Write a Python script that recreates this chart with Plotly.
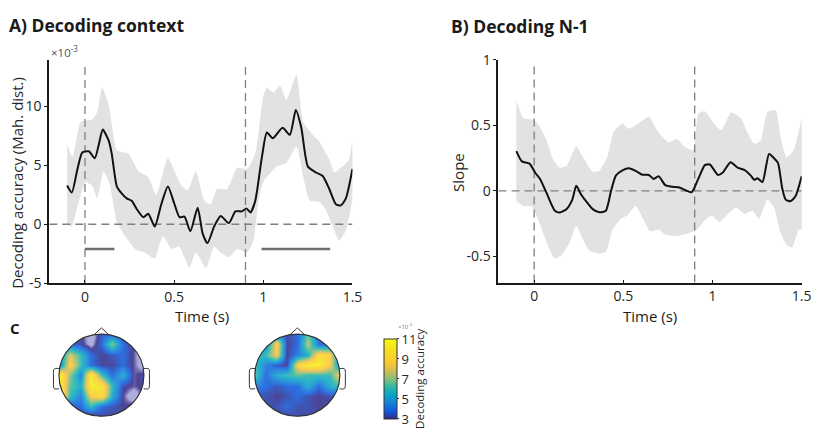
import numpy as np
import plotly.graph_objects as go

W, H = 827, 431

# ---------------- Panel A: decoding context ----------------
a_t = [-0.1, -0.074, -0.042, -0.015, 0.022, 0.055, 0.078, 0.1, 0.133, 0.15, 0.179, 0.207, 0.234,
       0.262, 0.29, 0.327, 0.355, 0.391, 0.428, 0.465, 0.502, 0.53, 0.558, 0.591, 0.632, 0.66,
       0.687, 0.724, 0.761, 0.807, 0.844, 0.88, 0.905, 0.928, 0.955, 0.992, 1.02, 1.053, 1.108,
       1.149, 1.182, 1.213, 1.25, 1.296, 1.333, 1.37, 1.407, 1.435, 1.463, 1.5]
a_mean = [3.3, 2.7, 4.7, 6.1, 6.2, 5.6, 6.8, 8.05, 7.1, 6.0, 3.2, 2.6, 2.2, 2.0, 1.3, 0.6, 0.9,
          -0.2, 1.7, 3.2, 1.7, 0.6, 0.65, -0.6, 1.4, -0.8, -1.6, -0.2, 0.7, 0.1, 1.1, 1.1, 1.35,
          1.0, 2.0, 5.7, 7.8, 7.3, 8.2, 7.6, 9.7, 8.2, 4.9, 4.4, 4.1, 3.0, 1.7, 1.6, 2.2, 4.7]
a_up_t = [-0.1, -0.07, -0.024, 0.04, 0.068, 0.096, 0.133, 0.179, 0.244, 0.3, 0.355, 0.4, 0.465,
          0.54, 0.576, 0.622, 0.669, 0.705, 0.742, 0.798, 0.853, 0.909, 0.955, 1.0, 1.02, 1.057,
          1.093, 1.13, 1.186, 1.223, 1.278, 1.315, 1.37, 1.398, 1.444, 1.48, 1.5]
a_up = [6.8, 5.7, 8.7, 8.9, 9.5, 11.6, 10.2, 6.3, 6.0, 4.5, 4.0, 2.5, 5.6, 3.3, 2.9, 4.5, 2.0,
        1.7, 3.0, 3.0, 4.8, 4.7, 6.0, 10.9, 11.6, 11.2, 11.8, 10.6, 12.7, 8.7, 7.6, 7.0, 5.5,
        4.4, 4.9, 5.5, 7.1]
a_lo_t = [-0.1, -0.075, -0.033, 0.004, 0.04, 0.068, 0.105, 0.14, 0.179, 0.225, 0.28, 0.335,
          0.39, 0.437, 0.484, 0.53, 0.585, 0.622, 0.678, 0.725, 0.76, 0.807, 0.853, 0.909,
          0.946, 0.973, 1.0, 1.075, 1.13, 1.186, 1.223, 1.26, 1.315, 1.352, 1.389, 1.425,
          1.463, 1.5]
a_lo = [0.05, -0.2, 2.0, 3.6, 3.3, 2.2, 4.5, 3.3, 0.2, -1.0, -2.1, -2.4, -2.9, -1.0, -2.1,
        -1.9, -3.7, -2.4, -3.7, -1.9, -2.4, -2.8, -2.1, -2.4, -1.3, 2.0, 3.6, 4.9, 5.2, 6.6,
        4.1, 2.0, 1.9, 1.2, -0.2, -1.4, -0.5, 2.2]
a_sig_start = [0.0, 0.99]
a_sig_end = [0.165, 1.375]
a_sig_level = -2.1

# ---------------- Panel B: decoding N-1 ----------------
b_t = [-0.1, -0.069, -0.026, 0.005, 0.033, 0.07, 0.116, 0.144, 0.181, 0.214, 0.236, 0.264,
       0.291, 0.328, 0.365, 0.402, 0.43, 0.458, 0.495, 0.532, 0.569, 0.606, 0.643, 0.67, 0.698,
       0.735, 0.772, 0.809, 0.846, 0.883, 0.92, 0.957, 0.985, 1.031, 1.058, 1.101, 1.141, 1.178,
       1.215, 1.234, 1.252, 1.28, 1.317, 1.345, 1.367, 1.391, 1.41, 1.437, 1.465, 1.5]
b_mean = [0.304, 0.226, 0.209, 0.141, 0.092, -0.017, -0.151, -0.165, -0.139, -0.066, 0.039,
          -0.029, -0.078, -0.139, -0.163, -0.151, -0.005, 0.117, 0.158, 0.173, 0.153, 0.124,
          0.122, 0.092, 0.112, 0.044, 0.032, 0.029, 0.007, -0.01, 0.092, 0.197, 0.202, 0.122,
          0.141, 0.219, 0.178, 0.161, 0.117, 0.085, 0.097, 0.068, 0.282, 0.25, 0.214, 0.019,
          -0.066, -0.078, -0.041, 0.112]
b_up_t = [-0.1, -0.06, -0.004, 0.024, 0.07, 0.107, 0.144, 0.181, 0.236, 0.282, 0.328, 0.365,
          0.411, 0.448, 0.495, 0.532, 0.587, 0.643, 0.698, 0.754, 0.8, 0.846, 0.892, 0.92,
          0.957, 1.012, 1.05, 1.104, 1.16, 1.197, 1.234, 1.27, 1.308, 1.354, 1.382, 1.415,
          1.456, 1.5]
b_up = [0.693, 0.555, 0.543, 0.506, 0.384, 0.238, 0.178, 0.19, 0.34, 0.238, 0.148, 0.153,
        0.263, 0.457, 0.513, 0.474, 0.518, 0.567, 0.445, 0.372, 0.397, 0.336, 0.311, 0.591,
        0.608, 0.506, 0.462, 0.599, 0.555, 0.445, 0.36, 0.384, 0.603, 0.616, 0.409, 0.258,
        0.311, 0.543]
b_lo_t = [-0.1, -0.06, -0.013, 0.024, 0.07, 0.116, 0.153, 0.199, 0.236, 0.273, 0.31, 0.365,
          0.402, 0.439, 0.485, 0.522, 0.569, 0.606, 0.652, 0.698, 0.735, 0.791, 0.837, 0.892,
          0.92, 0.957, 0.994, 1.04, 1.086, 1.132, 1.178, 1.224, 1.261, 1.308, 1.345, 1.382,
          1.419, 1.447, 1.484, 1.5]
b_lo = [-0.078, -0.114, -0.119, -0.224, -0.394, -0.516, -0.491, -0.394, -0.265, -0.37, -0.455,
        -0.479, -0.467, -0.297, -0.212, -0.187, -0.114, -0.2, -0.309, -0.297, -0.333, -0.345,
        -0.333, -0.309, -0.285, -0.224, -0.187, -0.236, -0.175, -0.127, -0.175, -0.151, -0.212,
        -0.066, -0.127, -0.321, -0.418, -0.431, -0.297, -0.292]

# ---------------- shared ----------------
events = [0.0, 0.9]
x_range = [-0.2, 1.5]
x_ticks = [0, 0.5, 1, 1.5]
x_ticktext = ["0", "0.5", "1", "1.5"]
a_range = [-5, 14]
a_yticks = [-5, 0, 5, 10]
a_yticktext = ["-5", "0", "5", "10"]
b_range = [-0.7, 1.0]
b_yticks = [-0.5, 0, 0.5, 1]
b_yticktext = ["-0.5", "0", "0.5", "1"]

# ---------------- Panel C: topographies (x10^-3), rows top -> bottom ----------------
topo_pos = [-1.0, -0.75, -0.5, -0.25, 0.0, 0.25, 0.5, 0.75, 1.0]
topo1 = [
    [3.2, 3.2, 3.2, 2.0, 3.6, 3.6, 3.2, 3.2, 3.2],
    [3.2, 3.8, 3.2, 2.4, 3.8, 7.0, 3.8, 3.0, 2.0],
    [3.8, 8.0, 6.0, 3.8, 3.0, 3.4, 3.8, 2.9, 2.0],
    [3.8, 9.0, 6.0, 3.8, 3.1, 3.1, 3.8, 2.9, 2.2],
    [11.0, 7.0, 4.3, 10.5, 6.0, 3.8, 5.5, 2.9, 3.2],
    [11.0, 6.5, 5.5, 10.5, 10.0, 6.0, 3.2, 2.9, 3.2],
    [11.0, 6.0, 4.3, 8.5, 9.5, 5.5, 3.0, 2.0, 3.2],
    [3.8, 3.4, 3.8, 6.0, 3.8, 3.4, 3.0, 3.2, 3.2],
    [3.2, 3.2, 3.2, 2.4, 3.2, 3.2, 3.2, 3.2, 3.2],
]
topo2 = [
    [3.8, 3.8, 4.3, 3.2, 3.8, 6.5, 3.8, 3.8, 3.8],
    [3.8, 4.3, 9.0, 3.0, 3.8, 7.5, 3.8, 3.8, 3.8],
    [5.5, 6.0, 8.5, 3.0, 4.3, 5.5, 9.5, 9.0, 3.8],
    [6.0, 4.3, 3.4, 3.0, 9.0, 10.5, 10.5, 8.5, 4.3],
    [6.5, 3.8, 5.5, 6.0, 6.5, 6.0, 6.0, 6.0, 8.5],
    [4.3, 3.8, 3.4, 3.8, 3.8, 5.5, 3.8, 5.5, 6.0],
    [3.3, 3.3, 3.0, 3.3, 3.8, 3.3, 3.0, 3.2, 3.8],
    [3.3, 3.3, 3.3, 3.8, 3.3, 3.3, 3.0, 3.2, 3.3],
    [3.2, 3.2, 3.2, 3.2, 3.2, 3.2, 3.2, 3.2, 3.2],
]
cbar_ticks = [3, 5, 7, 9, 11]
cbar_min, cbar_max = 3, 11

# ---------------- styling helpers ----------------
FONT = "Open Sans, Noto Sans, DejaVu Sans, sans-serif"
TXT = "#262626"
AX = "#1a1a1a"
BAND = "#e2e2e2"
DASH = "#7f7f7f"


def fx(px):
    return px / W


def fy(py):
    return 1 - py / H


parula = [
    [0.0, "#352a87"], [0.1, "#0f5cdd"], [0.2, "#1481d6"], [0.3, "#06a4ca"],
    [0.4, "#2eb7a4"], [0.5, "#87bf77"], [0.6, "#d1bb59"], [0.7, "#fec832"],
    [0.85, "#f5dc22"], [1.0, "#f9fb0e"],
]
lav_low = 2.0
span = cbar_max - lav_low
ext_scale = [[0.0, "#a3a1d8"], [0.6 / span, "#a3a1d8"]]
for p, c in parula:
    ext_scale.append([(cbar_min - lav_low + p * (cbar_max - cbar_min)) / span, c])

fig = go.Figure()


def add_panel(xa, ya, t, mean, up_t, up, lo_t, lo, yr):
    fig.add_trace(go.Scatter(
        x=list(up_t) + list(lo_t)[::-1], y=list(up) + list(lo)[::-1],
        fill="toself", fillcolor=BAND, mode="lines",
        line=dict(width=0, shape="spline", smoothing=0.5),
        xaxis=xa, yaxis=ya, hoverinfo="skip"))
    fig.add_trace(go.Scatter(
        x=x_range, y=[0, 0], mode="lines",
        line=dict(color=DASH, width=1.3, dash="8px,5px"),
        xaxis=xa, yaxis=ya, hoverinfo="skip"))
    for e in events:
        fig.add_trace(go.Scatter(
            x=[e, e], y=yr, mode="lines",
            line=dict(color=DASH, width=1.3, dash="8px,5px"),
            xaxis=xa, yaxis=ya, hoverinfo="skip"))
    fig.add_trace(go.Scatter(
        x=t, y=mean, mode="lines",
        line=dict(color="#111111", width=2, shape="spline", smoothing=0.6),
        xaxis=xa, yaxis=ya))


add_panel("x", "y", a_t, a_mean, a_up_t, a_up, a_lo_t, a_lo, [a_range[0], 13.6])
for s, e in zip(a_sig_start, a_sig_end):
    fig.add_trace(go.Scatter(x=[s, e], y=[a_sig_level, a_sig_level], mode="lines",
                             line=dict(color="#6e6e6e", width=2.5), xaxis="x", yaxis="y"))
add_panel("x2", "y2", b_t, b_mean, b_up_t, b_up, b_lo_t, b_lo, [b_range[0], 0.97])

# topographies
for z, xa, ya in [(topo1, "x3", "y3"), (topo2, "x4", "y4")]:
    fig.add_trace(go.Heatmap(
        x=topo_pos, y=topo_pos, z=z[::-1], zmin=lav_low, zmax=cbar_max,
        colorscale=ext_scale, zsmooth="best", showscale=False, opacity=0.88,
        xaxis=xa, yaxis=ya, hoverinfo="skip"))

# colorbar holder
fig.add_trace(go.Scatter(
    x=[0], y=[0], mode="markers", xaxis="x3", yaxis="y3",
    marker=dict(size=1, opacity=0, color=[cbar_min], cmin=cbar_min, cmax=cbar_max,
                colorscale=parula, showscale=True,
                colorbar=dict(x=fx(389), xanchor="left", y=fy(386), yanchor="middle",
                              len=80, lenmode="pixels", thickness=13, thicknessmode="pixels",
                              xpad=0, ypad=0, outlinewidth=1, outlinecolor="#333",
                              tickvals=cbar_ticks, ticktext=[str(v) for v in cbar_ticks],
                              ticks="outside", ticklen=2, tickcolor="#333",
                              tickfont=dict(size=13, color=TXT, family=FONT))),
    hoverinfo="skip"))

# head outlines / masks
ang = np.linspace(0, 2 * np.pi, 120)
circ = " ".join(("M" if i == 0 else "L") + f" {np.cos(a)*1.003:.4f},{np.sin(a)*1.003:.4f}"
                for i, a in enumerate(ang))
mask_path = "M -1.4,-1.4 L 1.4,-1.4 L 1.4,1.4 L -1.4,1.4 Z " + circ + " Z"
shapes = []
for xr, yr in [("x3", "y3"), ("x4", "y4")]:
    shapes.append(dict(type="path", path=mask_path, xref=xr, yref=yr, fillcolor="white",
                       fillrule="evenodd", line=dict(width=0), layer="above"))
    shapes.append(dict(type="circle", x0=-1, y0=-1, x1=1, y1=1, xref=xr, yref=yr,
                       line=dict(color="#333", width=1.2), layer="above"))
    shapes.append(dict(type="path", path="M -0.17,0.985 L 0,1.15 L 0.17,0.985",
                       xref=xr, yref=yr, line=dict(color="#333", width=1), layer="above"))
    for s in (-1, 1):
        shapes.append(dict(
            type="path",
            path=(f"M {s*0.995},0.16 C {s*1.14},0.18 {s*1.13},0.14 {s*1.13},0.04 "
                  f"L {s*1.13},-0.22 C {s*1.13},-0.34 {s*1.12},-0.35 {s*0.995},-0.33"),
            xref=xr, yref=yr, line=dict(color="#333", width=1), layer="above"))

tickfont = dict(size=14, color=TXT, family=FONT)
xcommon = dict(range=x_range, tickvals=x_ticks, ticktext=x_ticktext, showline=True,
               linecolor=AX, linewidth=2, ticks="inside", ticklen=3, tickcolor=AX,
               showgrid=False, zeroline=False, tickfont=tickfont, fixedrange=True)
ycommon = dict(showline=True, linecolor=AX, linewidth=2, ticks="outside", ticklen=3,
               tickcolor=AX, showgrid=False, zeroline=False, tickfont=tickfont)
topo_ax = dict(visible=False, showgrid=False, zeroline=False)

r = 43.0
t1c, t2c, tcy = 102.7, 301.0, 382.0
half = 1.3 * r

fig.update_layout(
    width=W, height=H, margin=dict(l=0, r=0, t=0, b=0),
    paper_bgcolor="white", plot_bgcolor="rgba(0,0,0,0)", showlegend=False,
    font=dict(family=FONT, color=TXT),
    xaxis=dict(domain=[fx(49.9), fx(356.8)], anchor="y", **xcommon),
    yaxis=dict(domain=[fy(285.7), fy(51.8)], anchor="x", range=a_range, tickvals=a_yticks,
               ticktext=a_yticktext, **ycommon),
    xaxis2=dict(domain=[fx(504.6), fx(811.5)], anchor="y2", **xcommon),
    yaxis2=dict(domain=[fy(285.2), fy(52.3)], anchor="x2", range=b_range, tickvals=b_yticks,
                ticktext=b_yticktext, **ycommon),
    xaxis3=dict(domain=[fx(t1c - half), fx(t1c + half)], anchor="y3", range=[-1.3, 1.3], **topo_ax),
    yaxis3=dict(domain=[0, fy(tcy - half)], anchor="x3",
                range=[-(H - tcy) / r, 1.3], **topo_ax),
    xaxis4=dict(domain=[fx(t2c - half), fx(t2c + half)], anchor="y4", range=[-1.3, 1.3], **topo_ax),
    yaxis4=dict(domain=[0, fy(tcy - half)], anchor="x4",
                range=[-(H - tcy) / r, 1.3], **topo_ax),
    shapes=shapes,
)

ann = [
    dict(text="<b>A) Decoding context</b>", x=fx(7), y=fy(16), size=17.5, xa="left"),
    dict(text="<b>B) Decoding N-1</b>", x=fx(454), y=fy(17), size=17.5, xa="left"),
    dict(text="<b>C</b>", x=fx(8), y=fy(333), size=15, xa="left"),
    dict(text="Time (s)", x=fx(204), y=fy(320), size=15, xa="center"),
    dict(text="Time (s)", x=fx(658), y=fy(320), size=15, xa="center"),
    dict(text="×10<sup>-3</sup>", x=fx(50), y=fy(43), size=11.5, xa="left", color="#555"),
    dict(text="×10<sup>-3</sup>", x=fx(401), y=fy(331), size=6, xa="left", color="#777"),
]
for a in ann:
    fig.add_annotation(text=a["text"], x=a["x"], y=a["y"], xref="paper", yref="paper",
                       xanchor=a["xa"], yanchor="middle", showarrow=False,
                       font=dict(size=a["size"], color=a.get("color", "#1a1a1a"), family=FONT))
for text, x, y, size in [("Decoding accuracy (Mah. dist.)", 17, 181, 15),
                         ("Slope", 463, 170, 15),
                         ("Decoding accuracy", 424, 385, 11.5)]:
    fig.add_annotation(text=text, x=fx(x), y=fy(y), xref="paper", yref="paper",
                       xanchor="center", yanchor="middle", textangle=-90, showarrow=False,
                       font=dict(size=size, color=TXT, family=FONT))

fig.write_html("out.html")
